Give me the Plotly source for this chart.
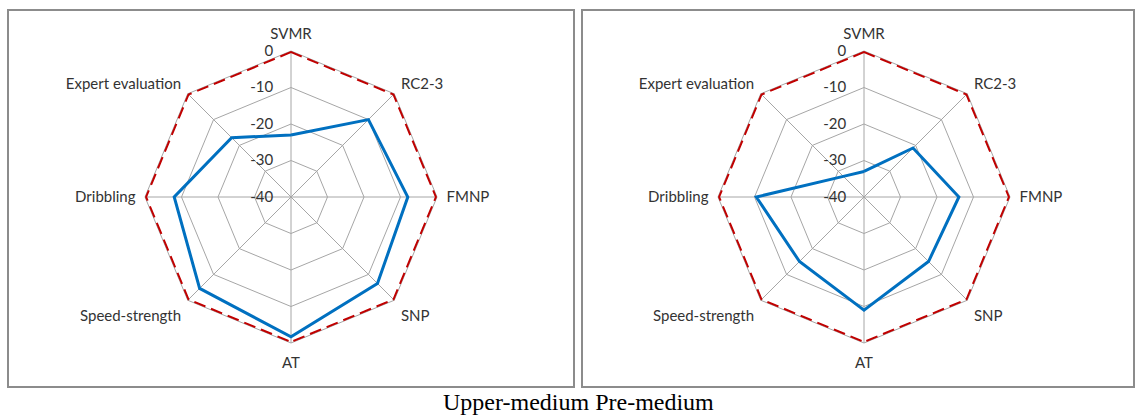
import plotly.graph_objects as go

categories = ["SVMR", "RC2-3", "FMNP", "SNP", "AT", "Speed-strength", "Dribbling", "Expert evaluation"]
upper_medium = [-23, -10, -8, -6.5, -1.7, -4.6, -8, -17]
pre_medium = [-33, -21, -14, -15, -9, -15, -10.5, -32]
reference = [0, 0, 0, 0, 0, 0, 0, 0]
radial_ticks = [-40, -30, -20, -10, 0]
caption = "Upper-medium Pre-medium"

W, H = 1137, 416
FONT = "Lato"

def closed(v):
    return list(v) + [v[0]]

cats_c = closed(categories)

fig = go.Figure()
for name, vals in [("polar", upper_medium), ("polar2", pre_medium)]:
    fig.add_trace(go.Scatterpolar(r=closed(reference), theta=cats_c, mode="lines",
                                  line=dict(color="#C00000", width=4, dash="12px,6px"),
                                  subplot=name, showlegend=False))
    fig.add_trace(go.Scatterpolar(r=closed(vals), theta=cats_c, mode="lines",
                                  line=dict(color="#0070C0", width=3),
                                  subplot=name, showlegend=False))

R = 146
def dom(cx, cy):
    cyb = H - cy
    return dict(x=[(cx - R) / W, (cx + R) / W], y=[(cyb - R) / H, (cyb + R) / H])

polar_common = dict(
    bgcolor="white",
    gridshape="linear",
    radialaxis=dict(range=[-40, 0], tickvals=radial_ticks, ticktext=[str(t) for t in radial_ticks],
                    angle=90, tickangle=90, showline=False, gridcolor="#A6A6A6", gridwidth=1,
                    ticks="outside", ticklen=12, tickcolor="rgba(0,0,0,0)",
                    tickfont=dict(family=FONT, size=15, color="#333333"),
                    side="counterclockwise", layer="below traces"),
    angularaxis=dict(rotation=90, direction="clockwise", gridcolor="#A6A6A6", gridwidth=1,
                     showline=True, linecolor="#A6A6A6", linewidth=1,
                     ticks="outside", ticklen=6, tickcolor="rgba(0,0,0,0)",
                     layer="below traces",
                     tickfont=dict(family=FONT, size=15, color="#333333")),
)

fig.update_layout(
    width=W, height=H, margin=dict(l=0, r=0, t=0, b=0),
    paper_bgcolor="white", plot_bgcolor="white",
    polar=dict(domain=dom(291, 197), **polar_common),
    polar2=dict(domain=dom(864, 197), **polar_common),
    shapes=[
        dict(type="rect", xref="paper", yref="paper", x0=8 / W, x1=574 / W, y0=(H - 387) / H, y1=(H - 10) / H,
             line=dict(color="#8C8C8C", width=2)),
        dict(type="rect", xref="paper", yref="paper", x0=582 / W, x1=1134 / W, y0=(H - 387) / H, y1=(H - 10) / H,
             line=dict(color="#8C8C8C", width=2)),
    ],
    annotations=[dict(text=caption, xref="paper", yref="paper", x=578 / W, y=(H - 402) / H,
                      xanchor="center", yanchor="middle", showarrow=False,
                      font=dict(family="Liberation Serif", size=24, color="black"))],
)

fig.write_html("out.html", config={"displayModeBar": False},
               post_script="document.body.style.margin='0';document.body.style.overflow='hidden';")
